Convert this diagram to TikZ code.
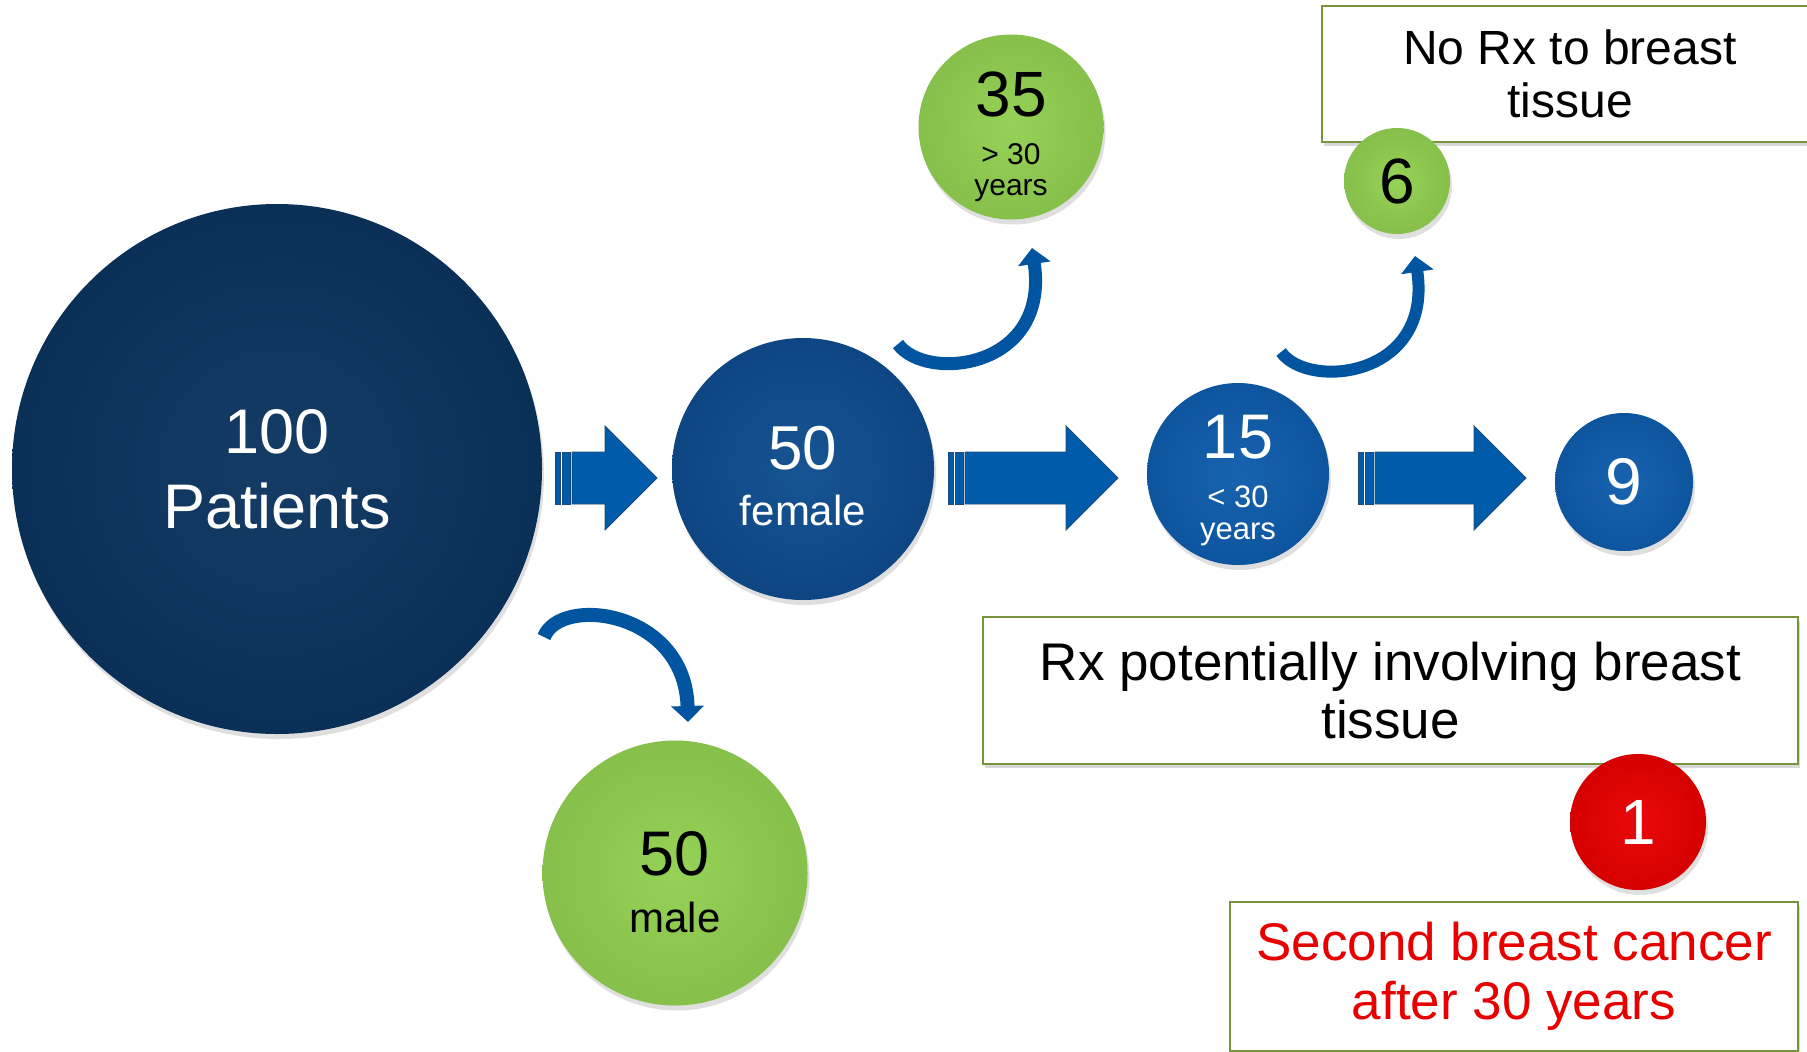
\documentclass[tikz,border=0pt]{standalone}
\usepackage{fontspec}
\setmainfont{Liberation Sans}
\usetikzlibrary{arrows.meta, calc, shadows}

\definecolor{navy}{RGB}{11,52,95}
\definecolor{femblue}{RGB}{14,76,142}
\definecolor{midblue}{RGB}{14,92,172}
\definecolor{limegreen}{RGB}{146,208,80}
\definecolor{alertred}{RGB}{232,0,0}
\definecolor{arrowblue}{RGB}{0,91,170}
\definecolor{arrowedge}{RGB}{28,74,122}
\definecolor{curveblue}{RGB}{0,84,160}
\definecolor{boxgreen}{RGB}{119,147,60}

\newcommand{\fsz}[2]{\fontsize{#1}{#2}\selectfont}

% striped block arrow from tail coordinate #1 to tip coordinate #2
\newcommand{\stripedarrow}[2]{%
  \filldraw[arrowbody] ($(#1)+(0,-26)$) rectangle ($(#1)+(5,26)$);
  \filldraw[arrowbody] ($(#1)+(7,-26)$) rectangle ($(#1)+(15,26)$);
  \filldraw[arrowbody] ($(#1)+(17,-26)$) -- ($(#2)+(-52,-26)$) -- ($(#2)+(-52,-52)$)
    -- (#2) -- ($(#2)+(-52,52)$) -- ($(#2)+(-52,26)$) -- ($(#1)+(17,26)$) -- cycle;
}

\tikzset{
  bubble/.style={circle, inner sep=0pt, align=center, text=white,
    inner color=#1!96!white, outer color=#1!92!black,
    drop shadow={shadow xshift=2pt, shadow yshift=-5pt, opacity=0.25}},
  infobox/.style={draw=boxgreen, line width=2pt, fill=white, align=center, inner sep=0pt,
    drop shadow={shadow xshift=2pt, shadow yshift=-4pt, opacity=0.3}},
  arrowbody/.style={fill=arrowblue, draw=arrowedge, line width=0.8pt},
  curvedarrow/.style={draw=curveblue, line width=13pt, -{Triangle[width=32pt,length=16pt]}}
}

\begin{document}
\begin{tikzpicture}[x=1pt, y=-1pt]
  \path[use as bounding box, fill=white] (0,0) rectangle (1807,1052);

  % Text boxes
  \node[infobox, minimum width=496pt, minimum height=136pt, font=\fsz{48}{53}]
    (norx) at (1570,74) {No Rx to breast\\tissue};
  \node[infobox, minimum width=815pt, minimum height=147pt, font=\fsz{53}{58}]
    (rxbox) at (1390.5,690.5) {Rx potentially involving breast\\tissue};
  \node[infobox, minimum width=568pt, minimum height=149pt, font=\fsz{53}{59}, text=alertred]
    (cancer) at (1514,976.5) {Second breast cancer\\after 30 years};

  % Main chain
  \node[bubble=navy, minimum size=530pt, font=\fsz{63}{75}] (pat) at (277,469) {100\\Patients};
  \node[bubble=femblue, minimum size=262pt, font=\fsz{42}{56}] (fem) at (803,469)
    {{\fsz{62}{62}\rule{0pt}{57pt}50}\\female};
  \node[bubble=midblue, minimum size=182pt, font=\fsz{31}{32}] (fifteen) at (1238,474)
    {{\fsz{63}{63}\rule{0pt}{57pt}15}\\[17pt]< 30\\years};
  \node[bubble=midblue, minimum size=138pt, font=\fsz{66}{66}] (nine) at (1624,482) {9};

  % Branches
  \node[bubble=limegreen, text=black, minimum size=185pt, font=\fsz{30}{31}] (over) at (1011,127)
    {{\fsz{64}{64}\rule{0pt}{64pt}35}\\[17pt]> 30\\years};
  \node[bubble=limegreen, text=black, minimum size=106pt, font=\fsz{64}{64}] (six) at (1397,181) {6};
  \node[bubble=limegreen, text=black, minimum size=265pt, font=\fsz{42}{57}] (male) at (675,873)
    {{\fsz{63}{63}\rule{0pt}{63pt}50}\\male};
  \node[bubble=alertred, minimum size=136pt, font=\fsz{64}{64}] (one) at (1638,822) {1};

  % Straight arrows
  \coordinate (a1tail) at (555,478);  \coordinate (a1tip) at (657,478);
  \coordinate (a2tail) at (948,478);  \coordinate (a2tip) at (1118,478);
  \coordinate (a3tail) at (1358,478); \coordinate (a3tip) at (1526,478);
  \stripedarrow{a1tail}{a1tip}
  \stripedarrow{a2tail}{a2tip}
  \stripedarrow{a3tail}{a3tip}

  % Curved arrows
  \coordinate (c1tail) at (544,637);  \coordinate (c1head) at (688,722);
  \coordinate (c2tail) at (898,344);  \coordinate (c2head) at (1032,248);
  \coordinate (c3tail) at (1281,352); \coordinate (c3head) at (1415,256);
  \draw[curvedarrow, line width=14pt] (c1tail) .. controls (560,595) and (685,610) .. (c1head);
  \draw[curvedarrow] (c2tail) .. controls (925,382) and (1050,370) .. (c2head);
  \draw[curvedarrow, line width=12pt] (c3tail) .. controls (1308,390) and (1433,378) .. (c3head);
\end{tikzpicture}
\end{document}
